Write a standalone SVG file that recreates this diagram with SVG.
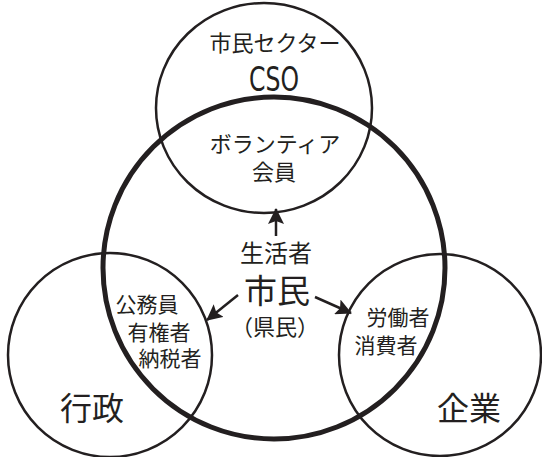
<svg xmlns="http://www.w3.org/2000/svg" width="542" height="457" viewBox="0 0 542 457">
<defs>
<marker id="ah" viewBox="0 0 16 16" refX="15" refY="8" markerWidth="16" markerHeight="16" markerUnits="userSpaceOnUse" orient="auto">
<path d="M0,0 L16,8 L0,16 L3,8 Z" fill="#231f20"/>
</marker>
<style>
.thin{fill:none;stroke:#231f20;stroke-width:2.5}
.thick{fill:none;stroke:#231f20;stroke-width:5}
.t{font-family:"Noto Sans CJK JP","Noto Sans",sans-serif;fill:#231f20;text-anchor:middle}
.cso{font-family:"DejaVu Sans Condensed","DejaVu Sans",sans-serif;fill:#231f20;text-anchor:middle}
.conn{stroke:#231f20;stroke-width:2.5;fill:none;marker-end:url(#ah)}
</style>
</defs>
<rect width="542" height="457" fill="#fff"/>
<g id="cso">
<ellipse class="thin" cx="264" cy="108" rx="108" ry="105"/>
<text class="t" x="275" y="51" font-size="22">市民セクター</text>
<text class="cso" x="274" y="91" font-size="33" textLength="50" lengthAdjust="spacingAndGlyphs">CSO</text>
</g>
<g id="gyosei">
<circle class="thin" cx="110" cy="355" r="102"/>
<text class="t" x="92" y="420" font-size="32">行政</text>
</g>
<g id="kigyo">
<circle class="thin" cx="440" cy="355" r="101"/>
<text class="t" x="469" y="420" font-size="32">企業</text>
</g>
<g id="shimin">
<circle class="thick" cx="274" cy="268" r="171"/>
<text class="t" x="276" y="262" font-size="24">生活者</text>
<text class="t" x="277" y="303" font-size="33">市民</text>
<text class="t" x="275" y="335" font-size="22">（県民）</text>
</g>
<g id="volunteer">
<text class="t" x="275" y="152" font-size="22">ボランティア</text>
<text class="t" x="274" y="180" font-size="22">会員</text>
</g>
<g id="koumuin">
<text class="t" x="147" y="312" font-size="21">公務員</text>
<text class="t" x="159" y="340" font-size="21">有権者</text>
<text class="t" x="170" y="366" font-size="21">納税者</text>
</g>
<g id="roudousha">
<text class="t" x="398" y="325" font-size="21">労働者</text>
<text class="t" x="386" y="353" font-size="21">消費者</text>
</g>
<g id="connectors">
<line class="conn" x1="276" y1="236" x2="276" y2="209"/>
<line class="conn" x1="238" y1="295" x2="207" y2="320"/>
<line class="conn" x1="315" y1="297" x2="351" y2="313"/>
</g>
</svg>
